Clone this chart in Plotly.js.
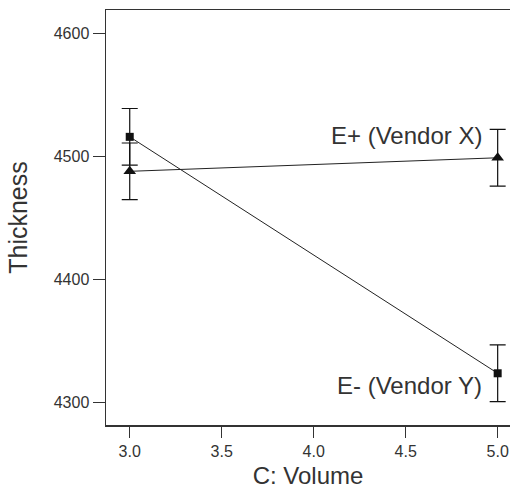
<!DOCTYPE html>
<html>
<head>
<meta charset="utf-8">
<script src="https://cdn.plot.ly/plotly-3.0.1.min.js"></script>
<style>html,body{margin:0;padding:0;background:#fff}#chart{width:510px;height:489px}</style>
</head>
<body>
<div id="chart"></div>
<script>
const volume = [3.0, 5.0];
const ePlusVendorX = [4488, 4499];
const eMinusVendorY = [4516, 4324];
const errorHalfWidth = [23, 23];
const seriesLabels = ["E+ (Vendor X)", "E- (Vendor Y)"];
const xTicks = [3.0, 3.5, 4.0, 4.5, 5.0];
const xTickText = ["3.0", "3.5", "4.0", "4.5", "5.0"];
const yTicks = [4300, 4400, 4500, 4600];
const yTickText = ["4300", "4400", "4500", "4600"];

const FONT = "Liberation Sans, Arial, sans-serif";
const traces = [
  {
    x: volume, y: ePlusVendorX, type: "scatter", mode: "lines+markers",
    name: seriesLabels[0],
    line: {color: "#222", width: 1},
    marker: {symbol: "triangle-up", size: 11, color: "#111"},
    error_y: {type: "data", array: errorHalfWidth, visible: true, color: "#111", thickness: 1.2, width: 8}
  },
  {
    x: volume, y: eMinusVendorY, type: "scatter", mode: "lines+markers",
    name: seriesLabels[1],
    line: {color: "#222", width: 1},
    marker: {symbol: "square", size: 8, color: "#111"},
    error_y: {type: "data", array: errorHalfWidth, visible: true, color: "#111", thickness: 1.2, width: 8}
  }
];

const layout = {
  width: 510, height: 489,
  margin: {l: 106, r: 0, t: 10, b: 64},
  paper_bgcolor: "#fff", plot_bgcolor: "#fff",
  showlegend: false,
  font: {family: FONT, color: "#333"},
  xaxis: {
    range: [2.871, 5.067],
    tickvals: xTicks, ticktext: xTickText,
    ticks: "outside", ticklen: 11, tickcolor: "#333", tickwidth: 1,
    showline: true, linecolor: "#333", linewidth: 1.5, mirror: true,
    showgrid: false, zeroline: false,
    tickfont: {size: 16, color: "#333"},
    title: {text: "C: Volume", font: {size: 24, color: "#333"}, standoff: 9}
  },
  yaxis: {
    range: [4282, 4619],
    tickvals: yTicks, ticktext: yTickText,
    ticks: "outside", ticklen: 12, tickcolor: "#333", tickwidth: 1,
    showline: true, linecolor: "#333", linewidth: 1.5,
    showgrid: false, zeroline: false,
    tickfont: {size: 16, color: "#333"},
    title: {text: "Thickness", font: {size: 25, color: "#333"}, standoff: 19}
  },
  annotations: [
    {x: 4.925, y: 4517, xref: "x", yref: "y", text: seriesLabels[0], showarrow: false,
     xanchor: "right", yanchor: "middle", font: {size: 24, color: "#333", family: FONT}},
    {x: 4.925, y: 4314, xref: "x", yref: "y", text: seriesLabels[1], showarrow: false,
     xanchor: "right", yanchor: "middle", font: {size: 24, color: "#333", family: FONT}}
  ]
};

Plotly.newPlot("chart", traces, layout, {displayModeBar: false, staticPlot: true});
</script>
</body>
</html>
